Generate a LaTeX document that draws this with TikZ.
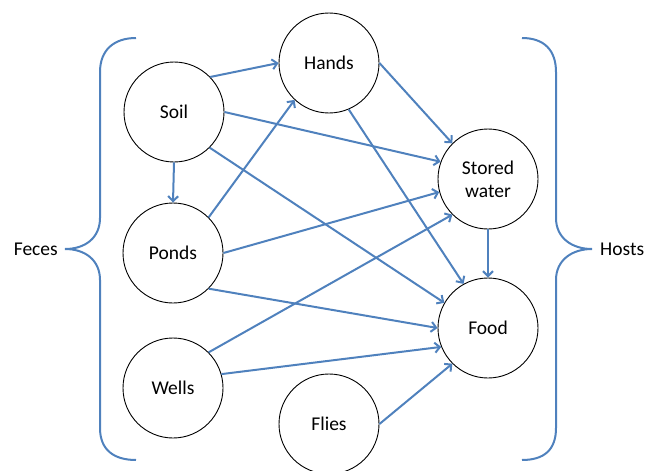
\documentclass[tikz,border=0pt]{standalone}
\usepackage{fontspec}
\setmainfont{Carlito}
\usetikzlibrary{arrows.meta}
\definecolor{arrowblue}{RGB}{79,129,189}
\tikzset{
  circ/.style={circle,draw=black,line width=0.9pt,minimum size=100pt,inner sep=0pt,align=center,font=\fontsize{19.5}{23}\selectfont},
  lbl/.style={inner sep=0pt,font=\fontsize{19.5}{23}\selectfont},
  conn/.style={draw=arrowblue,line width=2pt,-{Straight Barb[length=5pt,width=10pt]}},
  brace/.style={draw=arrowblue,line width=2pt}
}
\begin{document}
\begin{tikzpicture}[x=1pt,y=-1pt]
\useasboundingbox (0,0) rectangle (646,471);
\node[circ] (soil) at (174,112) {Soil};
\node[circ] (hands) at (329,63) {Hands};
\node[circ] (stored) at (488,179) {Stored\\water};
\node[circ] (ponds) at (173,253) {Ponds};
\node[circ] (food) at (488,328) {Food};
\node[circ] (wells) at (173,388) {Wells};
\node[circ] (flies) at (329,424) {Flies};
\node[lbl,anchor=east] (feces) at (58,249) {Feces};
\node[lbl,anchor=west] (hosts) at (600,249) {Hosts};
% braces
\coordinate (lb) at (65,249);
\coordinate (rb) at (592,249);
\path[brace] (136,38) .. controls (114,38) and (100,50) .. (100,72) -- (100,218) .. controls (100,238) and (85,249) .. (lb) .. controls (85,249) and (100,260) .. (100,280) -- (100,428) .. controls (100,450) and (114,460) .. (136,460);
\path[brace] (522,38) .. controls (544,38) and (556,50) .. (556,72) -- (556,218) .. controls (556,238) and (572,249) .. (rb) .. controls (572,249) and (556,260) .. (556,280) -- (556,428) .. controls (556,450) and (544,460) .. (522,460);
% connectors
\path[conn] (soil.44) -- (hands.west);
\path[conn] (soil.east) -- (stored.160);
\path[conn] (soil.-45) -- (food.150);
\path[conn] (soil.south) -- (ponds.north);
\path[conn] (ponds.45) -- (hands.227);
\path[conn] (ponds.east) -- (stored.195);
\path[conn] (ponds.-45) -- (food.west);
\path[conn] (wells.45) -- (stored.225);
\path[conn] (wells.16) -- (food.202);
\path[conn] (flies.east) -- (food.225);
\path[conn] (hands.east) -- (stored.135);
\path[conn] (hands.-67) -- (food.119);
\path[conn] (stored.south) -- (food.north);
\end{tikzpicture}
\end{document}
